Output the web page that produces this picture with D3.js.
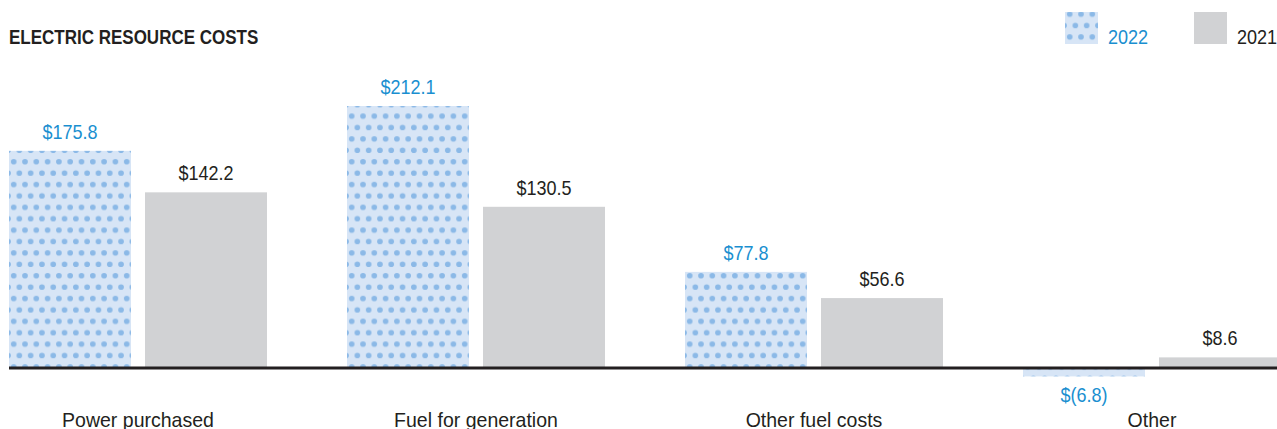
<!DOCTYPE html>
<html>
<head>
<meta charset="utf-8">
<script src="https://cdn.jsdelivr.net/npm/d3@7"></script>
<style>
  body { margin: 0; background: #ffffff; overflow: hidden; }
  text { font-family: "Liberation Sans", Arial, sans-serif; }
</style>
</head>
<body>
<div id="chart_box"></div>
<script>
// data
var categories = ["Power purchased", "Fuel for generation", "Other fuel costs", "Other"];
var years = ["2022", "2021"];
var values2022 = [175.8, 212.1, 77.8, -6.8];
var values2021 = [142.2, 130.5, 56.6, 8.6];

var width = 1277, height = 429;
var dark = "#231f20", blue = "#1a8fd0", grey = "#d1d2d4";

var svg = d3.select("#chart_box").append("svg")
    .attr("width", width)
    .attr("height", height);

// staggered dot fill for 2022
var pw = 11.3, ph = 22.8;
var pat = svg.append("defs").append("pattern")
    .attr("id", "dots")
    .attr("patternUnits", "userSpaceOnUse")
    .attr("width", pw)
    .attr("height", ph)
    .attr("x", 10.35)
    .attr("y", 19.2);
pat.append("rect").attr("width", pw).attr("height", ph).attr("fill", "#d7e5f6");
[[pw / 2, ph / 4], [0, ph * 3 / 4], [pw, ph * 3 / 4]].forEach(function (p) {
    pat.append("circle").attr("cx", p[0]).attr("cy", p[1]).attr("r", 2.8).attr("fill", "#8bb9e7");
});

var x0 = d3.scaleBand().domain(categories).range([9, 1281]).paddingInner(80 / 338).paddingOuter(0);
var x1 = d3.scaleBand().domain(years).range([0, x0.bandwidth()]).paddingInner(14 / 136).paddingOuter(0);
var y = d3.scaleLinear().domain([0, 212.1]).range([368, 106]);

var rows = categories.map(function (c, i) {
    return { cat: c, vals: [{ year: "2022", v: values2022[i] }, { year: "2021", v: values2021[i] }] };
});

var fmt = function (v) {
    return v < 0 ? "$(" + Math.abs(v).toFixed(1) + ")" : "$" + v.toFixed(1);
};

// condensed look: squeeze text horizontally
function place(x, y, k) {
    return "translate(" + x + "," + y + ") scale(" + k + ",1)";
}

var group = svg.selectAll(".grp")
    .data(rows)
    .enter().append("g")
    .attr("transform", function (d) { return "translate(" + x0(d.cat) + ",0)"; });

group.selectAll("rect")
    .data(function (d) { return d.vals; })
    .enter().append("rect")
    .attr("x", function (d) { return x1(d.year); })
    .attr("y", function (d) { return y(Math.max(0, d.v)); })
    .attr("width", x1.bandwidth())
    .attr("height", function (d) { return Math.abs(y(d.v) - y(0)); })
    .attr("fill", function (d) { return d.year === "2022" ? "url(#dots)" : grey; });

group.selectAll(".val")
    .data(function (d) { return d.vals; })
    .enter().append("text")
    .attr("class", "val")
    .attr("transform", function (d) {
        var ty = d.v < 0 ? y(d.v) + 26 : y(d.v) - 12;
        return place(x1(d.year) + x1.bandwidth() / 2, ty, 0.9);
    })
    .attr("text-anchor", "middle")
    .style("font-size", "20px")
    .attr("fill", function (d) { return d.year === "2022" ? blue : dark; })
    .text(function (d) { return fmt(d.v); });

// category labels
group.append("text")
    .attr("transform", place(x0.bandwidth() / 2, 427, 0.93))
    .attr("text-anchor", "middle")
    .style("font-size", "21px")
    .attr("fill", dark)
    .text(function (d) { return d.cat; });

// zero line
svg.append("line")
    .attr("x1", 9).attr("x2", width)
    .attr("y1", y(0)).attr("y2", y(0))
    .attr("stroke", dark)
    .attr("stroke-width", 3);

// title
svg.append("text")
    .attr("transform", place(9, 44, 0.81))
    .style("font-size", "21px")
    .style("font-weight", "bold")
    .attr("fill", dark)
    .text("ELECTRIC RESOURCE COSTS");

// legend
var legend = svg.selectAll(".leg")
    .data(years)
    .enter().append("g")
    .attr("transform", function (d, i) { return "translate(" + (1065 + i * 129) + ",12)"; });

legend.append("rect")
    .attr("width", 33).attr("height", 32)
    .attr("fill", function (d) { return d === "2022" ? "url(#dots)" : grey; });

legend.append("text")
    .attr("transform", place(43, 32, 0.86))
    .style("font-size", "21px")
    .attr("fill", function (d) { return d === "2022" ? blue : dark; })
    .text(function (d) { return d; });
</script>
</body>
</html>
